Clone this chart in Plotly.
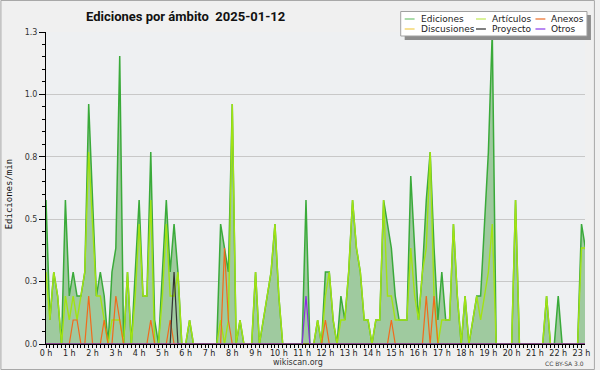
import plotly.graph_objects as go

# ---------------- data ----------------
hours = list(range(24))
hour_labels = [f"{h} h" for h in hours]
y_tickvals = [0, 0.26, 0.52, 0.78, 1.04, 1.3]
y_ticktext = ["0.0", "0.3", "0.5", "0.8", "1.0", "1.3"]
step_minutes = 10

ediciones = [
    0.6, 0.1, 0.3, 0.2, 0, 0.6, 0.2, 0.3, 0.2, 0.2,
    0.3, 1.0, 0.6, 0.2, 0.3, 0.2, 0, 0.3, 0.4, 1.2,
    0, 0.3, 0, 0.3, 0.6, 0.2, 0.2, 0.8, 0.1, 0,
    0.3, 0.6, 0.3, 0.5, 0.3, 0, 0, 0.1, 0, 0,
    0, 0, 0, 0, 0, 0.5, 0.4, 0.3, 1.0, 0,
    0.1, 0, 0, 0, 0.3, 0, 0.1, 0.2, 0.3, 0.5,
    0.2, 0, 0, 0, 0, 0, 0, 0.6, 0, 0,
    0.1, 0, 0.3, 0.3, 0.1, 0, 0.2, 0.1, 0.3, 0.6,
    0.4, 0.3, 0.1, 0.1, 0, 0.1, 0.1, 0.6, 0.5, 0.4,
    0.2, 0.1, 0.1, 0.1, 0.7, 0.4, 0.1, 0.3, 0.6, 0.8,
    0.4, 0.1, 0.3, 0.1, 0.1, 0.5, 0.2, 0, 0.2, 0,
    0.1, 0.2, 0.2, 0.5, 0.8, 1.3, 0, 0, 0, 0,
    0, 0.6, 0, 0, 0, 0, 0, 0, 0, 0.2,
    0, 0, 0.2, 0, 0, 0, 0, 0, 0.5, 0.4,
    0.3,
]
articulos = [
    0.3, 0.1, 0.3, 0.2, 0, 0.2, 0.1, 0.2, 0.1, 0.2,
    0.3, 0.8, 0.5, 0.2, 0.2, 0.1, 0, 0.1, 0.1, 0.1,
    0, 0.3, 0, 0.2, 0.5, 0.2, 0.2, 0.6, 0, 0,
    0.2, 0.5, 0.2, 0.2, 0.3, 0, 0, 0.1, 0, 0,
    0, 0, 0, 0, 0, 0.1, 0, 0.1, 1.0, 0,
    0.1, 0, 0, 0, 0.3, 0, 0.1, 0.2, 0.3, 0.5,
    0.2, 0, 0, 0, 0, 0, 0, 0, 0, 0,
    0.1, 0, 0.2, 0.3, 0.1, 0, 0.1, 0.1, 0.3, 0.6,
    0.4, 0.3, 0.1, 0.1, 0, 0.1, 0.1, 0.6, 0.2, 0.2,
    0.1, 0.1, 0.1, 0.1, 0.4, 0.2, 0.1, 0.3, 0.4, 0.8,
    0.2, 0, 0.1, 0.1, 0.1, 0.5, 0.2, 0, 0.2, 0,
    0.1, 0.2, 0.1, 0.2, 0.3, 0.5, 0, 0, 0, 0,
    0, 0.6, 0, 0, 0, 0, 0, 0, 0, 0.2,
    0, 0, 0, 0, 0, 0, 0, 0, 0.4, 0.4,
    0.3,
]
anexos = [
    0, 0, 0, 0, 0, 0, 0, 0.1, 0.1, 0,
    0, 0.2, 0, 0, 0, 0.1, 0, 0, 0.2, 0.1,
    0, 0, 0, 0, 0, 0, 0, 0.1, 0, 0,
    0, 0, 0.1, 0, 0, 0, 0, 0, 0, 0,
    0, 0, 0, 0, 0, 0, 0.4, 0.1, 0, 0,
    0, 0, 0, 0, 0, 0, 0, 0, 0, 0,
    0, 0, 0, 0, 0, 0, 0, 0, 0, 0,
    0, 0, 0.1, 0, 0, 0, 0, 0, 0, 0,
    0, 0, 0, 0, 0, 0, 0, 0, 0, 0.1,
    0, 0, 0, 0, 0, 0, 0, 0, 0.2, 0,
    0.2, 0, 0, 0, 0, 0, 0, 0, 0, 0,
    0, 0, 0, 0, 0, 0, 0, 0, 0, 0,
    0, 0, 0, 0, 0, 0, 0, 0, 0, 0,
    0, 0, 0, 0, 0, 0, 0, 0, 0, 0,
    0,
]
proyecto = [0] * 33 + [0.3] + [0] * 107
otros = [0] * 67 + [0.2] + [0] * 73
discusiones = [0] * 141

legend_names = ["Ediciones", "Artículos", "Anexos", "Discusiones", "Proyecto", "Otros"]

# ---------------- figure ----------------
times = [i * step_minutes / 60 for i in range(len(ediciones))]

L, R, T, B = 46, 10, 32, 26
W, H = 600, 370
PW, PH = W - L - R, H - T - B


def px_x(X):
    return (X - L) / PW


def px_y(Y):
    return (H - B - Y) / PH


line_colors = {
    "Ediciones": "#3aaa3a",
    "Artículos": "#a2e312",
    "Anexos": "#f26a1b",
    "Discusiones": "#f2c81e",
    "Proyecto": "#333333",
    "Otros": "#8c2be2",
}
legend_colors = {
    "Ediciones": "#8fd08f",
    "Artículos": "#cdee77",
    "Anexos": "#f08a50",
    "Discusiones": "#f4d770",
    "Proyecto": "#555555",
    "Otros": "#a060ee",
}

fig = go.Figure()
fig.add_trace(go.Scatter(x=times, y=ediciones, mode="lines", fill="tozeroy",
                         fillcolor="#9fca9f",
                         line=dict(color=line_colors["Ediciones"], width=1.5),
                         name="Ediciones", hoverinfo="skip"))
series = [("Discusiones", discusiones), ("Artículos", articulos), ("Anexos", anexos),
          ("Proyecto", proyecto), ("Otros", otros)]
for name, vals in series:
    fig.add_trace(go.Scatter(x=times, y=vals, mode="lines",
                             line=dict(color=line_colors[name], width=1.4 if name == "Artículos" else 1.2),
                             name=name, hoverinfo="skip"))

shapes = []
annotations = []

# outer frame
shapes.append(dict(type="rect", xref="paper", yref="paper",
                   x0=px_x(0.5), x1=px_x(W - 0.5), y0=px_y(H - 0.5), y1=px_y(0.5),
                   line=dict(color="#a8a8a8", width=1), fillcolor="rgba(0,0,0,0)", layer="below"))

# legend box with shadow
shapes.append(dict(type="rect", xref="paper", yref="paper",
                   x0=px_x(408), x1=px_x(596), y0=px_y(40), y1=px_y(15),
                   line=dict(width=0), fillcolor="#8c8c8c", layer="above"))
shapes.append(dict(type="rect", xref="paper", yref="paper",
                   x0=px_x(404), x1=px_x(592), y0=px_y(36), y1=px_y(11.5),
                   line=dict(color="#a0a0a0", width=1), fillcolor="#ffffff", layer="above"))
leg_cols = [408, 480, 540]
leg_rows = [19, 29]
for k, name in enumerate(legend_names):
    cx = leg_cols[k % 3]
    ry = leg_rows[k // 3]
    shapes.append(dict(type="line", xref="paper", yref="paper",
                       x0=px_x(cx), x1=px_x(cx + 10), y0=px_y(ry), y1=px_y(ry),
                       line=dict(color=legend_colors[name], width=1.5), layer="above"))
    annotations.append(dict(text=name, xref="paper", yref="paper", x=px_x(cx + 14), y=px_y(ry),
                            xanchor="left", yanchor="middle", showarrow=False,
                            font=dict(family="DejaVu Sans", size=9, color="#222")))

# title
annotations.append(dict(text="<b>Ediciones por ámbito\u00a0\u00a02025-01-12</b>", xref="paper", yref="paper",
                        x=px_x(84), y=px_y(17), xanchor="left", yanchor="middle", showarrow=False,
                        font=dict(family="Roboto", size=13, color="#111")))
# y title
annotations.append(dict(text="Ediciones/min", xref="paper", yref="paper", x=px_x(9), y=px_y(194),
                        xanchor="center", yanchor="middle", textangle=-90, showarrow=False,
                        font=dict(family="DejaVu Sans Mono", size=9, color="#111")))
annotations.append(dict(text="wikiscan.org", xref="paper", yref="paper", x=px_x(300), y=px_y(362.5),
                        xanchor="center", yanchor="middle", showarrow=False,
                        font=dict(family="DejaVu Sans", size=8, color="#333")))
annotations.append(dict(text="CC BY-SA 3.0", xref="paper", yref="paper", x=px_x(591), y=px_y(363.5),
                        xanchor="right", yanchor="middle", showarrow=False,
                        font=dict(family="DejaVu Sans", size=6, color="#444")))

fig.update_layout(
    width=W, height=H,
    margin=dict(l=L, r=R, t=T, b=B, pad=0),
    paper_bgcolor="#f0f0f0",
    plot_bgcolor="#eef0f2",
    showlegend=False,
    shapes=shapes,
    annotations=annotations,
    xaxis=dict(range=[0, 23.15], tickmode="array", tickvals=hours, ticktext=hour_labels,
               ticks="outside", ticklen=3, tickcolor="#000", tickwidth=1,
               showline=True, linecolor="#000", linewidth=1, showgrid=False, zeroline=False,
               minor=dict(dtick=step_minutes / 60, tick0=0, ticks="outside", ticklen=3,
                          tickcolor="#000", showgrid=False),
               tickfont=dict(family="DejaVu Sans", size=8, color="#222"),
               ticklabelstandoff=-2,
               fixedrange=True),
    yaxis=dict(range=[0, 1.3], tickmode="array", tickvals=y_tickvals, ticktext=y_ticktext,
               ticks="outside", ticklen=6, tickcolor="#000", tickwidth=1,
               showline=True, linecolor="#000", linewidth=1,
               showgrid=True, gridcolor="#c8c8c8", gridwidth=1, zeroline=False,
               minor=dict(dtick=0.052, tick0=0, ticks="outside", ticklen=3,
                          tickcolor="#000", showgrid=False),
               tickfont=dict(family="DejaVu Sans", size=8, color="#333"),
               ticklabelstandoff=0,
               fixedrange=True),
)

fig.write_html("out.html", config={"displayModeBar": False},
               post_script="document.body.style.margin='0';document.body.style.overflow='hidden';")
